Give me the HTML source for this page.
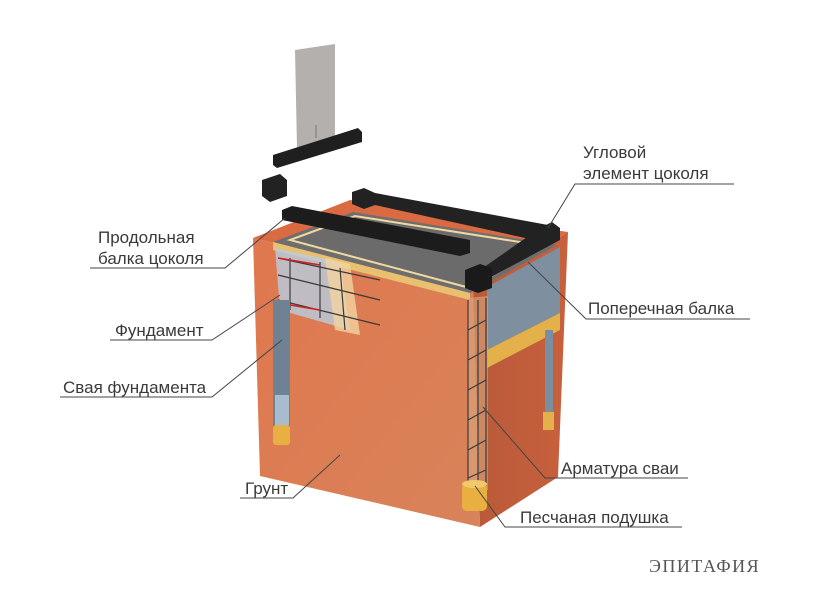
<!DOCTYPE html>
<html><head><meta charset="utf-8"><style>
html,body{margin:0;padding:0;background:#fff;width:823px;height:601px;overflow:hidden}
svg text{font-family:"Liberation Sans",sans-serif;font-size:17px;fill:#3a3a3a}
</style></head><body>
<svg width="823" height="601" viewBox="0 0 823 601">
<defs>
<linearGradient id="fr" x1="0" y1="0" x2="1" y2="1"><stop offset="0" stop-color="#e0774e"/><stop offset="1" stop-color="#d8835a"/></linearGradient>
<linearGradient id="rt" x1="0" y1="0" x2="1" y2="0"><stop offset="0" stop-color="#b85a3a"/><stop offset="1" stop-color="#c8603c"/></linearGradient>
</defs>
<polygon points="295,50 335,44 335,140 297,148" fill="#b4b0ad"/>
<line x1="316" y1="125" x2="316" y2="138" stroke="#777" stroke-width="1"/>
<polygon points="273,155 358,128 362,132 362,142 277,168 273,165" fill="#1f1f1f"/>
<polygon points="262,180 280,174 287,180 287,196 270,202 262,196" fill="#222"/>
<polygon points="253,238 350,200 568,232 473,290" fill="#d96a42"/>
<polygon points="253,238 473,290 480,527 260,476" fill="url(#fr)"/>
<polygon points="473,290 568,232 558,477 480,527" fill="url(#rt)"/>
<polygon points="273,242 353,212 557,245 470,293" fill="#6e6e6e"/>
<polygon points="290,240 355,216 545,246 470,288" fill="#6b6b6b" stroke="#f0d8a0" stroke-width="2"/>
<polygon points="273,242 470,293 470,300 273,250" fill="#e8c070"/>
<polygon points="487,287 560,247 560,313 487,350" fill="#7e90a0"/>
<polygon points="487,350 560,313 560,330 487,368" fill="#e3b04a"/>
<polygon points="275,248 340,262 350,330 280,310" fill="#b8cde0" opacity="0.8"/>
<polygon points="325,258 350,264 360,335 335,330" fill="#f2d3a0" opacity="0.8"/>
<g stroke="#3a3a3a" stroke-width="1.2" fill="none">
<line x1="278" y1="258" x2="380" y2="280"/><line x1="278" y1="275" x2="380" y2="300"/><line x1="278" y1="300" x2="380" y2="325"/>
<line x1="290" y1="258" x2="290" y2="310"/><line x1="320" y1="262" x2="320" y2="318"/><line x1="340" y1="268" x2="345" y2="330"/>
</g>
<line x1="278" y1="258" x2="320" y2="265" stroke="#d02020" stroke-width="1.5"/>
<line x1="278" y1="303" x2="320" y2="310" stroke="#d02020" stroke-width="1.5"/>
<rect x="273" y="300" width="17" height="128" fill="#6f8294"/>
<rect x="275" y="395" width="14" height="30" fill="#a8bcd0"/>
<rect x="273" y="425" width="17" height="20" rx="3" fill="#e8b040"/>
<rect x="545" y="330" width="8" height="90" fill="#7a8ea0"/>
<rect x="543" y="412" width="11" height="18" fill="#e3b04a"/>
<polygon points="468,298 488,296 488,490 468,490" fill="#d9a77e" opacity="0.6"/>
<g stroke="#3a3a3a" stroke-width="1.2" fill="none">
<line x1="468" y1="300" x2="468" y2="490"/><line x1="478" y1="300" x2="478" y2="490"/><line x1="486" y1="298" x2="486" y2="488"/>
<path d="M468 330 L486 320 M468 360 L486 350 M468 390 L486 380 M468 420 L486 410 M468 450 L486 440 M468 478 L486 470"/>
</g>
<rect x="462" y="483" width="25" height="28" rx="5" fill="#e8b040"/>
<ellipse cx="474.5" cy="484" rx="12.5" ry="4" fill="#f3c86a"/>
<polygon points="352,192 364,188 375,193 548,225 555,230 555,240 548,243 375,205 364,209 352,204" fill="#222"/>
<polygon points="282,210 292,206 470,240 470,253 460,256 282,220" fill="#1c1c1c"/>
<polygon points="540,228 552,222 560,228 560,240 480,283 480,270" fill="#222"/>
<polygon points="465,270 480,264 492,268 492,288 478,293 465,288" fill="#1a1a1a"/>
<g stroke="#444" stroke-width="1" fill="none">
<polyline points="734,184 575,184 548,228"/>
<polyline points="90,268 225,268 285,218"/>
<polyline points="110,340 212,340 280,295"/>
<polyline points="60,397 212,397 282,340"/>
<polyline points="750,319 586,319 528,262"/>
<polyline points="688,478 545,478 483,407"/>
<polyline points="240,498 293,498 340,455"/>
<polyline points="682,527 505,527 475,486"/>
</g>
<text x="583" y="158">Угловой</text>
<text x="583" y="179">элемент цоколя</text>
<text x="98" y="243">Продольная</text>
<text x="98" y="264">балка цоколя</text>
<text x="115" y="336">Фундамент</text>
<text x="63" y="393">Свая фундамента</text>
<text x="588" y="314">Поперечная балка</text>
<text x="561" y="474">Арматура сваи</text>
<text x="245" y="494">Грунт</text>
<text x="520" y="523">Песчаная подушка</text>
<text x="649" y="572" style="font-family:'Liberation Serif',serif;font-size:18px;letter-spacing:1.5px;fill:#555">ЭПИТАФИЯ</text>
</svg>
</body></html>
